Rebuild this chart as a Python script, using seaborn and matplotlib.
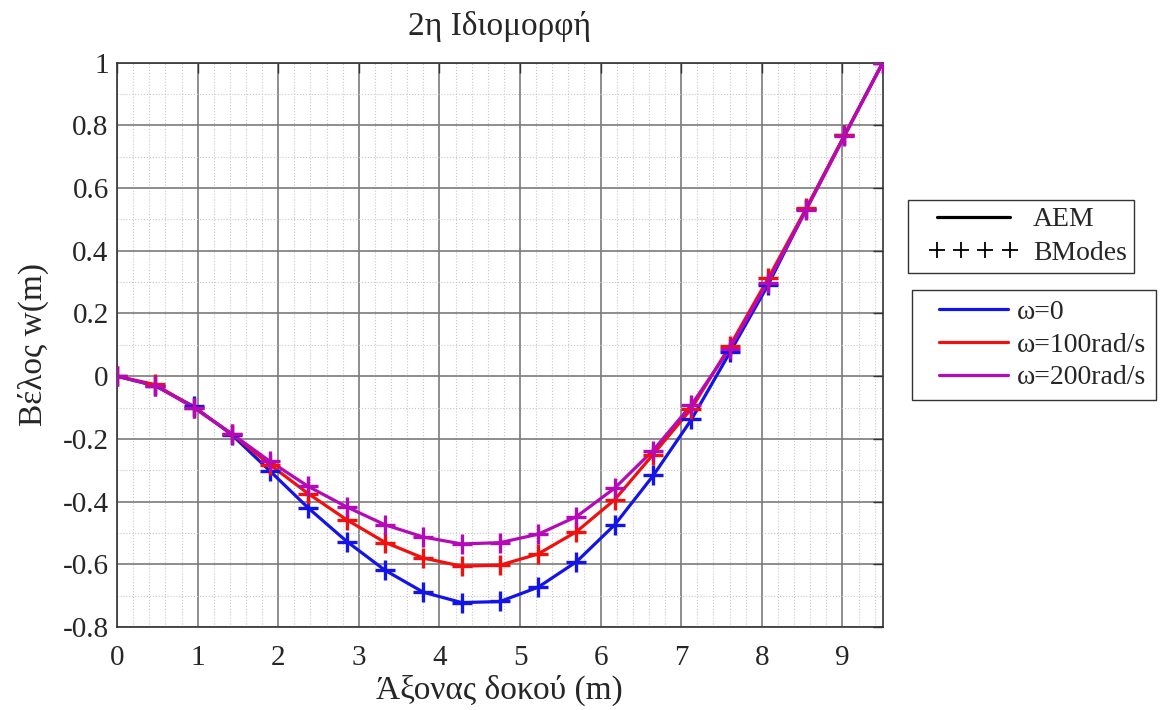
import numpy as np
import pandas as pd
import matplotlib as mpl
mpl.use('Agg')
from matplotlib import pyplot as plt
from matplotlib.lines import Line2D
from matplotlib.legend_handler import HandlerLine2D
from matplotlib.ticker import MultipleLocator
import seaborn as sns

# stations along the beam (m), BModes nodes every 0.475 m
x_pos = [0.0, 0.475, 0.95, 1.425, 1.9, 2.375, 2.85, 3.325, 3.8, 4.275, 4.75,
         5.225, 5.7, 6.175, 6.65, 7.125, 7.6, 8.075, 8.55, 9.025, 9.5]

omega_labels = ['ω=0', 'ω=100rad/s', 'ω=200rad/s']

# AEM curves (solid lines)
aem_w0 = [0.0, -0.031, -0.096, -0.187, -0.303, -0.421, -0.527, -0.619, -0.689, -0.722, -0.719,
          -0.673, -0.592, -0.474, -0.318, -0.139, 0.074, 0.290, 0.533, 0.768, 1.0]
aem_w100 = [0.0, -0.027, -0.099, -0.184, -0.283, -0.375, -0.458, -0.530, -0.580, -0.606, -0.603,
            -0.567, -0.496, -0.394, -0.250, -0.104, 0.095, 0.310, 0.535, 0.768, 1.0]
aem_w200 = [0.0, -0.030, -0.100, -0.184, -0.272, -0.352, -0.417, -0.474, -0.513, -0.535, -0.531,
            -0.504, -0.448, -0.357, -0.237, -0.092, 0.087, 0.300, 0.530, 0.765, 1.0]

# BModes points (+ markers)
bm_w0 = [0.0, -0.031, -0.095, -0.186, -0.303, -0.421, -0.528, -0.619, -0.688, -0.722, -0.718,
         -0.672, -0.593, -0.474, -0.316, -0.138, 0.076, 0.290, 0.533, 0.770, 1.0]
bm_w100 = [0.0, -0.026, -0.100, -0.184, -0.282, -0.375, -0.458, -0.531, -0.580, -0.606, -0.603,
           -0.568, -0.496, -0.394, -0.250, -0.106, 0.097, 0.312, 0.537, 0.770, 1.0]
bm_w200 = [0.0, -0.031, -0.100, -0.184, -0.271, -0.351, -0.416, -0.474, -0.512, -0.535, -0.531,
           -0.504, -0.448, -0.356, -0.239, -0.093, 0.087, 0.298, 0.530, 0.765, 1.0]

colors = ['#1414e6', '#f01010', '#b40ab8']

aem = pd.DataFrame({'x': x_pos * 3,
                    'w': aem_w0 + aem_w100 + aem_w200,
                    'omega': [o for o in omega_labels for _ in x_pos]})
bm = pd.DataFrame({'x': x_pos * 3,
                   'w': bm_w0 + bm_w100 + bm_w200,
                   'omega': [o for o in omega_labels for _ in x_pos]})

sns.set_style('white')
plt.rcParams['font.family'] = ['Liberation Serif', 'DejaVu Serif']

fig = plt.figure(figsize=(11.61, 7.10), dpi=100)
ax = fig.add_axes([0.1008, 0.1169, 0.6595, 0.7948])

sns.lineplot(data=aem, x='x', y='w', hue='omega', palette=colors, lw=2.3,
             legend=False, ax=ax, zorder=3)
for i, o in enumerate(omega_labels):
    d = bm[bm.omega == o]
    ax.plot(d.x, d.w, ls='none', marker='+', ms=14, mew=2.4, color=colors[i], zorder=4)

ax.set_xlim(0, 9.5)
ax.set_ylim(-0.8, 1.0)
ax.xaxis.set_major_locator(MultipleLocator(1))
ax.xaxis.set_minor_locator(MultipleLocator(0.2))
ax.yaxis.set_major_locator(MultipleLocator(0.2))
ax.yaxis.set_minor_locator(MultipleLocator(0.1))
ax.set_yticklabels(['%g' % t for t in ax.get_yticks()])

ax.grid(which='major', color='#7a7a7a', lw=1.2, ls='-', zorder=0)
ax.grid(which='minor', color='#c8c8c8', lw=0.8, ls=':', zorder=0)
ax.tick_params(which='major', direction='in', length=7, width=1, top=True, right=True,
               labelsize=21, color='#333333')
ax.tick_params(axis='x', which='major', pad=13)
ax.tick_params(axis='y', which='major', pad=6)
ax.tick_params(which='minor', length=0)
for s in ax.spines.values():
    s.set_color('#333333')
    s.set_linewidth(1.2)

ax.set_xlabel('Άξονας δοκού (m)', fontsize=24, labelpad=3)
ax.set_ylabel('Βέλος w(m)', fontsize=24, labelpad=10)
ax.set_title('2η Ιδιομορφή', fontsize=24, pad=20)

# legend 1: method
h1 = [Line2D([], [], color='black', lw=2.3),
      Line2D([], [], color='black', ls='none', marker='+', ms=12, mew=1.3)]
leg1 = fig.legend(h1, ['AEM', 'BModes'], loc='upper left',
                  bbox_to_anchor=(908 / 1161, 1 - 200 / 710), bbox_transform=fig.transFigure,
                  fontsize=20, frameon=True, fancybox=False, edgecolor='black',
                  handlelength=4.2, handletextpad=0.05, labelspacing=0.3, numpoints=4,
                  borderpad=0.25, borderaxespad=0,
                  handler_map={Line2D: HandlerLine2D(marker_pad=0.79)})
leg1.get_frame().set_linewidth(1.0)

# legend 2: rotational speed
h2 = [Line2D([], [], color=c, lw=2.3) for c in colors]
leg2 = fig.legend(h2, omega_labels, loc='upper left',
                  bbox_to_anchor=(912 / 1161, 1 - 290 / 710), bbox_transform=fig.transFigure,
                  fontsize=20, frameon=True, fancybox=False, edgecolor='black',
                  handlelength=3.78, handletextpad=-0.32, labelspacing=0.27,
                  borderpad=0.33, borderaxespad=0,
                  handler_map={Line2D: HandlerLine2D(numpoints=2, marker_pad=0.65)})
leg2.get_frame().set_linewidth(1.0)

fig.savefig('out.png', dpi=100, facecolor='white')
